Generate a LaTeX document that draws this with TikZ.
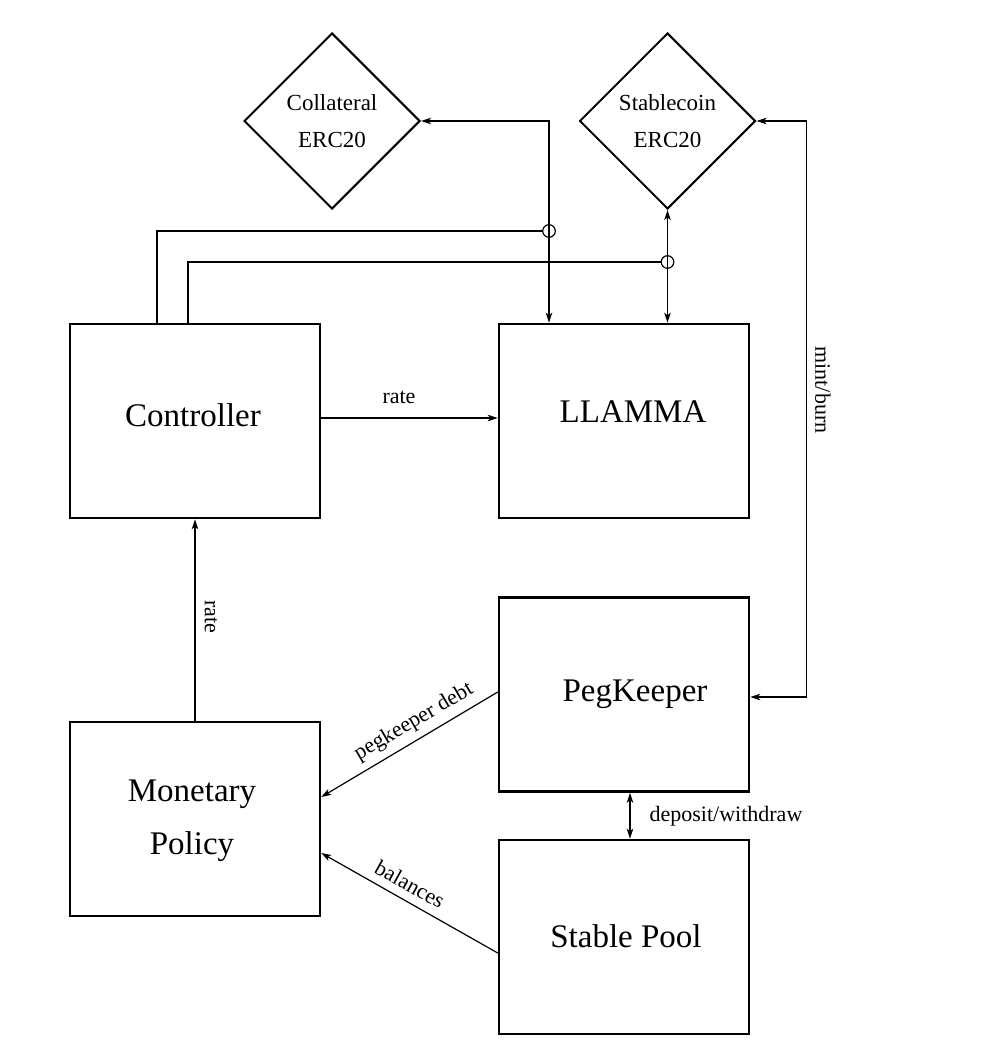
\documentclass[tikz,border=0pt]{standalone}
\usepackage{fontspec}
\setmainfont{Liberation Serif}
\usetikzlibrary{shapes.geometric,arrows.meta,calc}
\begin{document}
\begin{tikzpicture}[x=1pt,y=-1pt,
  box/.style={draw,line width=2.5pt,minimum width=250pt,minimum height=194pt,inner sep=0},
  title/.style={font=\fontsize{33}{53}\selectfont,align=center,inner sep=0},
  dia/.style={draw,diamond,line width=2pt,minimum width=176pt,minimum height=176pt,inner sep=0,aspect=1,font=\fontsize{23}{37}\selectfont,align=center},
  conn/.style={line width=1.2pt,>={Stealth[length=10pt,width=6.5pt,inset=2.5pt]}},
  lab/.style={font=\fontsize{22}{26}\selectfont,inner sep=0},
  junction/.style={circle,draw,line width=1.2pt,minimum size=12.6pt,inner sep=0}
]
\fill[white] (0,0) rectangle (984,1062);
\useasboundingbox (0,0) rectangle (984,1062);

\node[box] (ctrl) at (195,421) {};
\node[title] (ctrlT) at (193,415) {Controller};
\node[box] (llamma) at (624,421) {};
\node[title] (llammaT) at (633,412) {LLAMMA};
\node[box] (peg) at (624,694.5) {};
\node[title] (pegT) at (635,694) {PegKeeper};
\node[box] (mon) at (195,819) {};
\node[title] (monT) at (192,821) {Monetary\\Policy};
\node[box] (pool) at (624,937) {};
\node[title] (poolT) at (626,936) {Stable Pool};
\node[dia] (coll) at (332,121) {Collateral\\ERC20};
\node[dia] (stab) at (667.5,121) {Stablecoin\\ERC20};

\node[junction] (j1) at (549,231) {};
\node[junction] (j2) at (667.5,262) {};

\draw[conn,<->] (coll.east) -| (llamma.north -| j1);
\draw[conn,<->] (stab.south) -- (llamma.north -| stab.south);
\draw[conn] ([xshift=-38pt]ctrl.north) |- (j1.west);
\draw[conn] ([xshift=-7pt]ctrl.north) |- (j2.west);

\draw[conn,->] ([yshift=3pt]ctrl.east) -- ([yshift=3pt]llamma.west);
\node[lab] (rate1) at (399,397) {rate};

\draw[conn,->] (mon.north) -- (ctrl.south);
\node[lab,rotate=-90] (rate2) at (211,617) {rate};

\draw[conn,->] ([yshift=2.5pt]peg.west) -- ([yshift=22pt]mon.east);
\node[lab,rotate=30.4] (pkd) at (414,722) {pegkeeper debt};

\draw[conn,->] ([yshift=-16pt]pool.west) -- ([yshift=-34pt]mon.east);
\node[lab,rotate=-29] (bal) at (410,884) {balances};

\draw[conn,<->] ([xshift=6pt]peg.south) -- ([xshift=6pt]pool.north);
\node[lab] (dw) at (726,816) {deposit/withdraw};

\draw[conn,<->] (stab.east) -- ++(50,0) |- ([yshift=-2.5pt]peg.east);
\node[lab,rotate=-90] (mb) at (823,390) {mint/burn};
\end{tikzpicture}
\end{document}
